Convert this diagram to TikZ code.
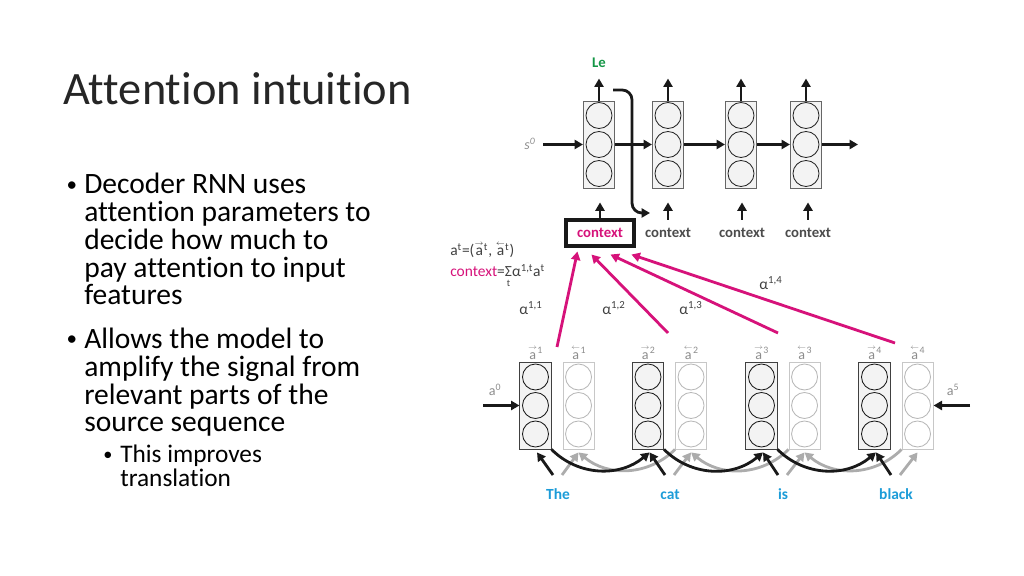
\documentclass[tikz,border=0pt]{standalone}
\usepackage{amsmath}
\usepackage{fontspec}
\setmainfont{Carlito}[Ligatures=NoCommon]
\usepackage{xcolor}
\usepackage{tikz}
\usetikzlibrary{arrows.meta,positioning,calc}

\definecolor{attnpink}{RGB}{214,18,122}
\definecolor{wordblue}{RGB}{28,156,216}
\definecolor{outgreen}{RGB}{20,150,70}
\definecolor{labelgrey}{RGB}{140,140,140}
\definecolor{backgrey}{RGB}{172,172,172}
\definecolor{cellfill}{RGB}{243,243,243}

\newcommand{\fwa}[1]{$\overset{\scriptscriptstyle\rightarrow}{\mbox{a}}$\textsuperscript{#1}}
\newcommand{\bwa}[1]{$\overset{\scriptscriptstyle\leftarrow}{\mbox{a}}$\textsuperscript{#1}}

\begin{document}
\begin{tikzpicture}[
        x=0.025cm, y=0.025cm,
        cell/.style={draw=black!60, fill=cellfill, line width=0.6pt, minimum width=0.78cm, minimum height=2.175cm, inner sep=0},
        bwcell/.style={draw=black!22, fill=white, line width=0.6pt, minimum width=0.78cm, minimum height=2.175cm, inner sep=0},
        arr/.style={-{Triangle[length=6pt,width=6.5pt]}, line width=2pt, draw=black!90},
        garr/.style={arr, draw=backgrey},
        parr/.style={arr, draw=attnpink},
        lbl/.style={font=\fontsize{10}{12}\selectfont, text=labelgrey, inner sep=1pt},
        alab/.style={font=\fontsize{11}{12}\selectfont, text=black!75, inner sep=0},
        ctxlbl/.style={font=\bfseries\fontsize{10.5}{12}\selectfont, text=black!70, minimum width=1.7cm, minimum height=0.65cm, inner sep=0},
        word/.style={font=\bfseries\fontsize{11}{13}\selectfont, text=wordblue, anchor=base}
    ]
        \useasboundingbox (0,0) rectangle (1024,576);

        % slide text
        \node[anchor=base west, inner sep=0, text=black!85, font=\fontsize{33}{36}\selectfont] (title) at (63,471) {Attention intuition};
        \node[anchor=base, inner sep=0, font=\fontsize{15}{20}\selectfont] (dot1) at (72,384) {•};
        \node[anchor=base west, inner sep=0, align=left, font=\fontsize{21}{19.9}\selectfont] (item1) at (84,271) {Decoder RNN uses\\attention parameters to\\decide how much to\\pay attention to input\\features};
        \node[anchor=base, inner sep=0, font=\fontsize{15}{20}\selectfont] (dot2) at (72,230) {•};
        \node[anchor=base west, inner sep=0, align=left, font=\fontsize{21}{19.9}\selectfont] (item2) at (84,144) {Allows the model to\\amplify the signal from\\relevant parts of the\\source sequence};
        \node[anchor=base, inner sep=0, font=\fontsize{13}{17}\selectfont] (dot3) at (108,115) {•};
        \node[anchor=base west, inner sep=0, align=left, font=\fontsize{18}{17.7}\selectfont] (item3) at (120,89) {This improves\\translation};

        % decoder
        \foreach \i/\x in {1/599,2/668,3/741,4/806}
            \node[cell] (dec\i) at (\x,431.5) {};
        \foreach \i in {1,...,4}
            \foreach \dy in {-29,0,29}
                \draw[black!85, line width=0.6pt] ($(dec\i.center)+(0,\dy)$) circle (13);
        \foreach \i in {1,...,4}
            \draw[arr] (dec\i.north) -- ++(0,22);
        \foreach \i/\j in {1/2,2/3,3/4}
            \draw[arr] (dec\i.east) -- (dec\j.west);
        \node[lbl, font=\itshape\fontsize{10}{12}\selectfont] (s0) at (530,432) {s\textsuperscript{0}};
        \coordinate (s0in) at (543,431.5);
        \coordinate (decout) at (858,431.5);
        \draw[arr] (s0in) -- (dec1.west);
        \draw[arr] (dec4.east) -- (decout);
        \node[font=\bfseries\fontsize{10.5}{12}\selectfont, text=outgreen] (le) at (599,513) {Le};
        \coordinate (lefrom) at (613,486);
        \coordinate (leto) at (650,363);
        \draw[arr, rounded corners=7pt] (lefrom) -| ($(leto)+(-18,0)$) -- (leto);

        % contexts
        \node[ctxlbl, draw=black!90, line width=2.2pt, text=attnpink] (ctx1) at (600,343) {context};
        \foreach \i/\x in {2/668,3/742,4/808}
            \node[ctxlbl] (ctx\i) at (\x,343) {context};
        \foreach \i in {1,...,4}
            \draw[arr, shorten >=0.35cm] (ctx\i.north) -- (ctx\i.north |- dec\i.south);

        \node[anchor=base west, alab] (atdef) at (450,320) {a\textsuperscript{t}=(\fwa{t}, \bwa{t})};
        \node[anchor=base west, alab] (ctxdef) at (450,299) {\textcolor{attnpink}{context}=$\underset{\mbox{\fontsize{7}{8}\selectfont t}}{\mbox{Σ}}$α\textsuperscript{1,t}a\textsuperscript{t}};

        % encoder
        \foreach \i/\x in {1/535.5,2/648,3/761.5,4/874.5} {
            \node[cell, draw=black!75] (fw\i) at (\x,170.5) {};
            \node[bwcell, right=0.275cm of fw\i] (bw\i) {};
            \node[lbl, above=0.5pt of fw\i] (fwl\i) {\fwa{\i}};
            \node[lbl, above=0.5pt of bw\i] (bwl\i) {\bwa{\i}};
        }
        \foreach \i in {1,...,4}
            \foreach \dy in {-28.5,0,28.5} {
                \draw[black!90, line width=0.6pt] ($(fw\i.center)+(0,\dy)$) circle (13);
                \draw[black!28, line width=0.6pt] ($(bw\i.center)+(0,\dy)$) circle (13);
            }
        \node[lbl] (a0) at (495,186) {a\textsuperscript{0}};
        \node[lbl] (a5) at (953,186) {a\textsuperscript{5}};
        \coordinate (a0in) at (483,170.5);
        \coordinate (a5in) at (970,170.5);
        \draw[arr] (a0in) -- (fw1.west);
        \draw[arr] (a5in) -- (bw4.east);

        % attention weights
        \coordinate (src1) at (557,229);
        \coordinate (src2) at (668,243);
        \coordinate (src3) at (778,243);
        \coordinate (src4) at (895,233);
        \draw[parr] (src1) -- ($(ctx1.south west)+(13,-4)$);
        \draw[parr] (src2) -- ($(ctx1.south west)+(27,-7)$);
        \draw[parr] (src3) -- ($(ctx1.south west)+(46,-7)$);
        \draw[parr] (src4) -- ($(ctx1.south west)+(67,-7)$);
        \node[alab] (w11) at (531,268) {α\textsuperscript{1,1}};
        \node[alab] (w12) at (614,268) {α\textsuperscript{1,2}};
        \node[alab] (w13) at (691,268) {α\textsuperscript{1,3}};
        \node[alab] (w14) at (771,293) {α\textsuperscript{1,4}};

        % input words
        \foreach \i/\x/\w in {1/558/The,2/670/cat,3/783/is,4/896/black}
            \node[word] (w\i) at (\x,76) {\w};
        \foreach \i/\j in {1/2,2/3,3/4}
            \draw[garr] (bw\j.south west) to[out=-135,in=-40] ($(bw\i.south)+(0,-3)$);
        \foreach \i in {1,...,4}
            \draw[garr] ($(w\i.base)+(4,25)$) -- ($(bw\i.south)+(0,-3)$);
        \foreach \i/\j in {1/2,2/3,3/4}
            \draw[arr] (fw\i.south east) to[out=-45,in=-140] ($(fw\j.south)+(1.5,-3)$);
        \foreach \i in {1,...,4}
            \draw[arr] ($(w\i.base)+(-5,25)$) -- ($(fw\i.south)+(1.5,-3)$);
    \end{tikzpicture}
\end{document}
